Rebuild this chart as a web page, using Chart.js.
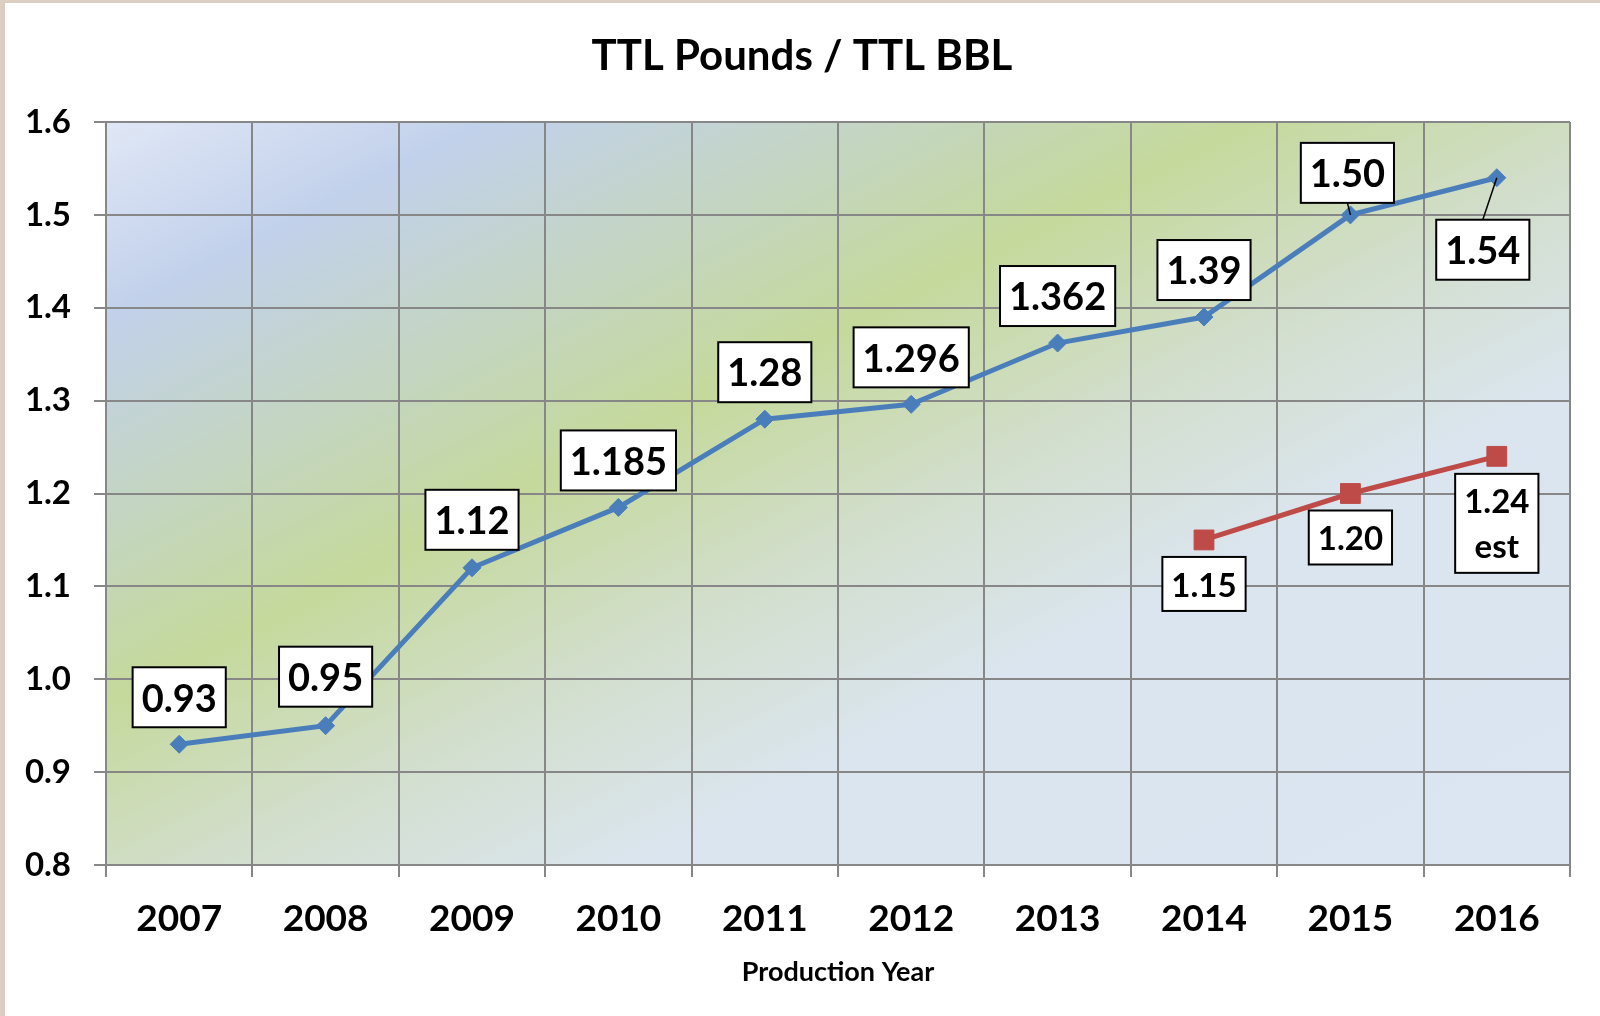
<!DOCTYPE html>
<html><head><meta charset="utf-8">
<script src="https://cdn.jsdelivr.net/npm/chart.js@4/dist/chart.umd.min.js"></script>
<style>
html,body{margin:0;padding:0;background:#ddcec3;width:1600px;height:1016px;overflow:hidden;}
#wrap{position:absolute;left:5px;top:3px;width:1595px;height:1013px;background:#fff;}
canvas{display:block;}
</style></head><body>
<div id="wrap"><canvas id="c" width="1595" height="1013"></canvas></div>
<script>
// ---- data ----
const chartTitle = 'TTL Pounds / TTL BBL';
const xAxisTitle = 'Production Year';
const years = ['2007','2008','2009','2010','2011','2012','2013','2014','2015','2016'];
const actualValues = [0.93, 0.95, 1.12, 1.185, 1.28, 1.296, 1.362, 1.39, 1.50, 1.54];
const actualLabels = ['0.93','0.95','1.12','1.185','1.28','1.296','1.362','1.39','1.50','1.54'];
const estValues = [null, null, null, null, null, null, null, 1.15, 1.20, 1.24];
const estLabels = [null, null, null, null, null, null, null, '1.15', '1.20', ['1.24','est']];
const yTickValues = [0.8, 0.9, 1.0, 1.1, 1.2, 1.3, 1.4, 1.5, 1.6];

// ---- label placement (style) ----
const actualLabelOffsets = [[0,-47],[0,-49],[0,-48],[0,-47],[0,-47],[0,-47],[0,-47],[0,-47],[-3,-42,1],[-14,72,1]];
const estLabelOffsets = [null,null,null,null,null,null,null,[0,44],[0,44],[0,67]];

const FONT = 'Lato, "Open Sans", sans-serif';

const bgPlugin = {
  id: 'bgGrad',
  beforeDraw(chart) {
    const {ctx, chartArea: a} = chart;
    const w = a.right - a.left, h = a.bottom - a.top;
    const t = 2 * w * h / (w * w + h * h);
    const g = ctx.createLinearGradient(a.left, a.top, a.left + t * h, a.top + t * w);
    g.addColorStop(0, '#e0e7f6');
    g.addColorStop(0.13, '#c2d1eb');
    g.addColorStop(0.39, '#c5d99c');
    g.addColorStop(0.53, '#d2decb');
    g.addColorStop(0.68, '#dbe5ef');
    g.addColorStop(1, '#dce6f2');
    ctx.save();
    ctx.fillStyle = g;
    ctx.fillRect(a.left, a.top, w, h);
    ctx.restore();
  },
  afterDraw(chart) {
    const ctx = chart.ctx;
    ctx.save();
    ctx.font = 'bold 42px ' + FONT;
    ctx.fillStyle = '#000';
    ctx.textAlign = 'center';
    ctx.textBaseline = 'middle';
    ctx.fillText(chartTitle, 797, 53);
    ctx.restore();
  }
};

const labelPlugin = {
  id: 'boxLabels',
  afterDatasetsDraw(chart) {
    const ctx = chart.ctx;
    chart.data.datasets.forEach((ds, di) => {
      const cfg = ds.boxLabel;
      const meta = chart.getDatasetMeta(di);
      meta.data.forEach((pt, i) => {
        const txt = cfg.texts[i];
        if (txt == null) return;
        const lines = Array.isArray(txt) ? txt : [txt];
        const off = cfg.offsets[i];
        ctx.save();
        ctx.font = 'bold ' + cfg.size + 'px ' + FONT;
        const tw = Math.max(...lines.map(l => ctx.measureText(l).width));
        const w = tw + 2 * cfg.padX;
        const h = cfg.boxH + (lines.length - 1) * cfg.lineGap;
        const cx = pt.x + off[0], cy = pt.y + off[1];
        if (off[2]) {
          ctx.strokeStyle = '#000';
          ctx.lineWidth = 1.5;
          ctx.beginPath();
          ctx.moveTo(pt.x, pt.y);
          ctx.lineTo(cx, off[1] < 0 ? cy + h / 2 : cy - h / 2);
          ctx.stroke();
        }
        ctx.fillStyle = '#fff';
        ctx.fillRect(cx - w / 2, cy - h / 2, w, h);
        ctx.lineWidth = 2;
        ctx.strokeStyle = '#000';
        ctx.strokeRect(cx - w / 2, cy - h / 2, w, h);
        ctx.fillStyle = '#000';
        ctx.textAlign = 'center';
        ctx.textBaseline = 'middle';
        lines.forEach((l, k) => ctx.fillText(l, cx, cy + (k - (lines.length - 1) / 2) * cfg.lineGap + 2));
        ctx.restore();
      });
    });
  }
};

new Chart(document.getElementById('c'), {
  type: 'line',
  data: {
    labels: years,
    datasets: [
      {
        data: actualValues,
        borderColor: '#4a7ebb',
        backgroundColor: '#4a7ebb',
        borderWidth: 5,
        pointStyle: 'rectRot',
        pointRadius: 9,
        pointBorderWidth: 1,
        tension: 0,
        boxLabel: {texts: actualLabels, offsets: actualLabelOffsets, size: 38, padX: 9, boxH: 60, lineGap: 0}
      },
      {
        data: estValues,
        borderColor: '#be4b48',
        backgroundColor: '#be4b48',
        borderWidth: 5,
        pointStyle: 'rect',
        pointRadius: 14,
        pointBorderWidth: 1,
        tension: 0,
        boxLabel: {texts: estLabels, offsets: estLabelOffsets, size: 33, padX: 9, boxH: 54, lineGap: 45}
      }
    ]
  },
  options: {
    responsive: false,
    animation: false,
    devicePixelRatio: 1,
    layout: {padding: {top: 119, right: 30, left: 0, bottom: 0}},
    plugins: {legend: {display: false}, tooltip: {enabled: false}, title: {display: false}},
    scales: {
      x: {
        offset: true,
        grid: {offset: true, color: '#878787', lineWidth: 2, tickLength: 12, tickColor: '#878787'},
        border: {color: '#878787', width: 2},
        ticks: {color: '#000', padding: 20, font: {family: FONT, size: 37, weight: 'bold'}, maxRotation: 0},
        title: {display: true, text: xAxisTitle, color: '#000', font: {family: FONT, size: 27, weight: 'bold'}, padding: {top: 0, bottom: 28}},
        afterFit(s) { s.height = 151; }
      },
      y: {
        min: 0.8, max: 1.6,
        afterBuildTicks(s) { s.ticks = yTickValues.map(v => ({value: v})); },
        grid: {color: '#878787', lineWidth: 2, tickLength: 12, tickColor: '#878787'},
        border: {color: '#878787', width: 2},
        ticks: {color: '#000', padding: 23, font: {family: FONT, size: 33, weight: 'bold'}, callback: v => Number(v).toFixed(1)},
        afterFit(s) { s.width = 101; }
      }
    }
  },
  plugins: [bgPlugin, labelPlugin]
});
</script>
</body></html>
